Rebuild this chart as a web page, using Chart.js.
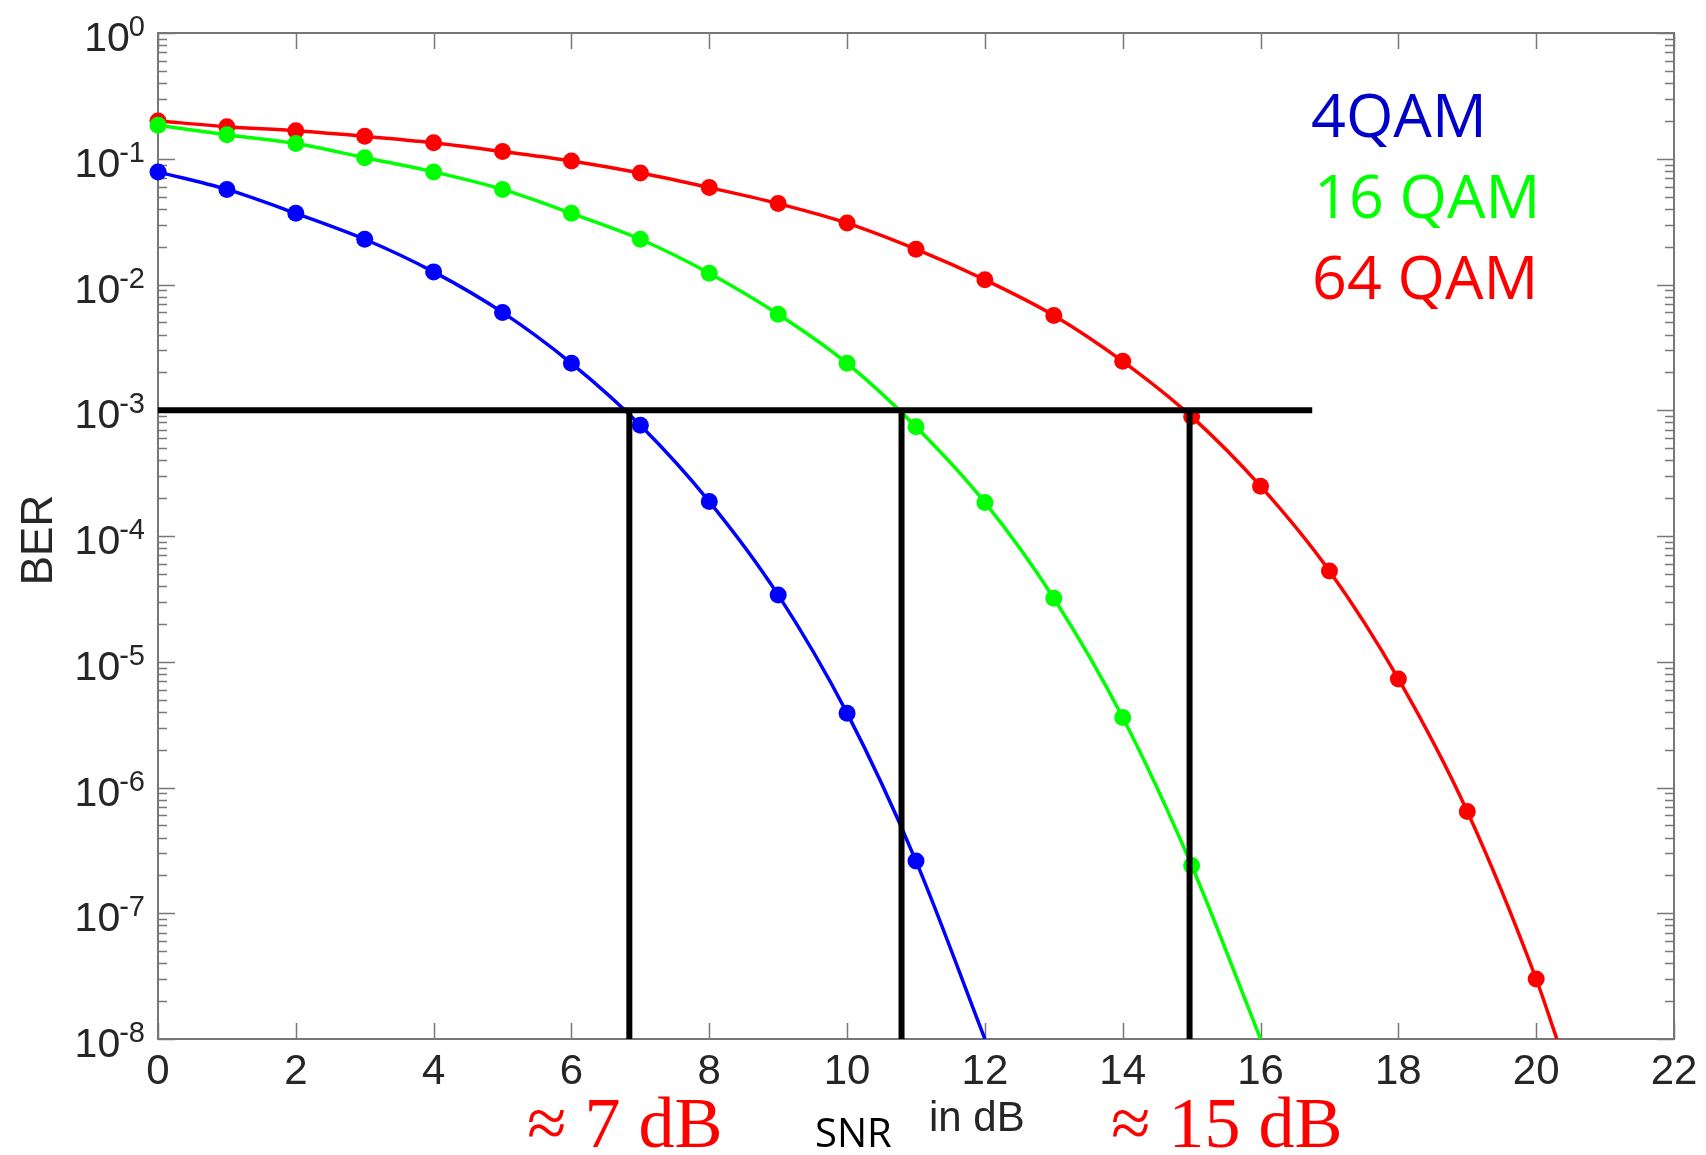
<!DOCTYPE html>
<html>
<head>
<meta charset="utf-8">
<script src="https://cdn.jsdelivr.net/npm/chart.js@4.4.0/dist/chart.umd.min.js"></script>
<style>
  html, body { margin: 0; padding: 0; background: #ffffff; }
  #wrap { width: 1706px; height: 1155px; position: relative; }
</style>
</head>
<body>
<div id="wrap"><canvas id="c" width="1706" height="1155"></canvas></div>
<script>
// ---- data ----
const snrDb = [0,1,2,3,4,5,6,7,8,9,10,11,12,13,14,15,16,17,18,19,20];
const ber4QAM  = [0.0786, 0.057, 0.0368, 0.0229, 0.0126, 0.0060, 0.00236, 7.6e-4, 1.88e-4, 3.4e-5, 3.9e-6, 2.6e-7];
const ber16QAM = [0.185, 0.155, 0.132, 0.102, 0.0786, 0.057, 0.0368, 0.0229, 0.0123, 0.0058, 0.00236, 7.4e-4, 1.85e-4, 3.2e-5, 3.6e-6, 2.4e-7];
const ber64QAM = [0.200, 0.180, 0.167, 0.151, 0.134, 0.114, 0.096, 0.077, 0.059, 0.044, 0.0308, 0.0191, 0.0109, 0.00568, 0.00245, 8.9e-4, 2.49e-4, 5.26e-5, 7.3e-6, 6.45e-7, 3.0e-8];
// where each curve leaves the plot at the bottom (x in dB, BER)
const curveEnd4QAM  = [12.0, 1e-8];
const curveEnd16QAM = [16.0, 1e-8];
const curveEnd64QAM = [20.3, 1e-8];
// threshold lines
const targetBER = 1e-3;
const crossingSnr = [6.84, 10.79, 14.97];
const thresholdLineEnd = 16.75;
// axes
const xTicks = [0,2,4,6,8,10,12,14,16,18,20,22];
const yExponents = [0,-1,-2,-3,-4,-5,-6,-7,-8];
const legendNames = ['4QAM', '16 QAM', '64 QAM'];
const annotations = ['\u2248 7 dB', '\u2248 15 dB'];

// ---- build datasets ----
function pts(arr){ return arr.map((v,i)=>({x:snrDb[i], y:v})); }
function curve(arr, end){ return pts(arr).concat([{x:end[0], y:end[1]}]); }

const colBlue = '#0000FF', colGreen = '#00FF00', colRed = '#FF0000';

const datasets = [];
// black threshold lines (on top)
datasets.push({ data:[{x:0,y:targetBER},{x:thresholdLineEnd,y:targetBER}], borderColor:'#000', borderWidth:6, pointRadius:0, order:0, borderCapStyle:'butt', clip:false });
crossingSnr.forEach(s => datasets.push({ data:[{x:s,y:targetBER},{x:s,y:1e-8}], borderColor:'#000', borderWidth:6, pointRadius:0, order:0, borderCapStyle:'butt' }));
// markers
[[ber4QAM,colBlue],[ber16QAM,colGreen],[ber64QAM,colRed]].forEach(([a,c]) => datasets.push({
  data: pts(a), showLine:false, pointRadius:8.5, pointBackgroundColor:c, pointBorderWidth:0, pointHoverRadius:8.5, order:1, clip:false
}));
// smooth curves
[[ber4QAM,curveEnd4QAM,colBlue],[ber16QAM,curveEnd16QAM,colGreen],[ber64QAM,curveEnd64QAM,colRed]].forEach(([a,e,c]) => datasets.push({
  data: curve(a,e), borderColor:c, borderWidth:3.5, pointRadius:0, cubicInterpolationMode:'monotone', order:2
}));

const axisColor = '#777777';
const textColor = '#262626';

const decorPlugin = {
  id: 'decor',
  beforeDatasetsDraw(chart) {
    const {ctx, chartArea:a, scales:{x, y}} = chart;
    ctx.save();
    ctx.strokeStyle = axisColor;
    ctx.lineWidth = 2;
    ctx.strokeRect(a.left, a.top, a.right - a.left, a.bottom - a.top);
    ctx.lineWidth = 1.5;
    ctx.beginPath();
    xTicks.forEach(t => {
      const px = Math.round(x.getPixelForValue(t)) + 0.5;
      ctx.moveTo(px, a.bottom); ctx.lineTo(px, a.bottom - 16);
      ctx.moveTo(px, a.top); ctx.lineTo(px, a.top + 16);
    });
    yExponents.forEach(e => {
      const py = Math.round(y.getPixelForValue(Math.pow(10, e))) + 0.5;
      ctx.moveTo(a.left, py); ctx.lineTo(a.left + 17, py);
      ctx.moveTo(a.right, py); ctx.lineTo(a.right - 17, py);
      if (e < 0) {
        for (let m = 2; m <= 9; m++) {
          const pm = Math.round(y.getPixelForValue(m * Math.pow(10, e))) + 0.5;
          ctx.moveTo(a.left, pm); ctx.lineTo(a.left + 9, pm);
          ctx.moveTo(a.right, pm); ctx.lineTo(a.right - 9, pm);
        }
      }
    });
    ctx.stroke();
    ctx.restore();
  },
  afterDraw(chart) {
    const {ctx, chartArea:a, scales:{x, y}} = chart;
    ctx.save();
    // y tick labels 10^k
    ctx.fillStyle = textColor;
    ctx.textBaseline = 'alphabetic';
    yExponents.forEach(e => {
      const py = y.getPixelForValue(Math.pow(10, e));
      const expStr = String(e);
      ctx.font = '29px "Liberation Sans", Arial, sans-serif';
      const w = ctx.measureText(expStr).width;
      const expLeft = 145 - w;
      ctx.textAlign = 'left';
      ctx.fillText(expStr, expLeft, py + 3);
      ctx.font = '41px "Liberation Sans", Arial, sans-serif';
      ctx.textAlign = 'right';
      ctx.fillText('10', expLeft + 1, py + 18);
    });
    // y axis title
    ctx.save();
    ctx.translate(52, 540);
    ctx.rotate(-Math.PI / 2);
    ctx.font = '44px "Liberation Sans", Arial, sans-serif';
    ctx.textAlign = 'center';
    ctx.fillText('BER', 0, 0);
    ctx.restore();
    // x axis title pieces
    ctx.textAlign = 'left';
    ctx.font = '42px "Liberation Sans", Arial, sans-serif';
    ctx.fillStyle = textColor;
    ctx.fillText('in dB', 929, 1131);
    ctx.font = '40px "Open Sans", sans-serif';
    ctx.fillStyle = '#000';
    ctx.fillText('SNR', 815, 1147);
    // annotations
    ctx.font = '72px "Liberation Serif", "DejaVu Serif", serif';
    ctx.fillStyle = '#FF0000';
    ctx.fillText(annotations[0], 527, 1147);
    ctx.fillText(annotations[1], 1111, 1147);
    // legend text
    ctx.font = '61px "Open Sans", sans-serif';
    ctx.fillStyle = '#0000C8';
    ctx.fillText(legendNames[0], 1311, 137);
    ctx.fillStyle = colGreen;
    ctx.fillText(legendNames[1], 1314, 218);
    ctx.fillStyle = colRed;
    ctx.fillText(legendNames[2], 1312, 299);
    ctx.restore();
  }
};

new Chart(document.getElementById('c'), {
  type: 'line',
  data: { datasets },
  options: {
    responsive: false,
    animation: false,
    events: [],
    layout: { padding: { left: 0, top: 33, right: 32, bottom: 0 } },
    plugins: { legend: { display: false }, tooltip: { enabled: false } },
    scales: {
      x: {
        type: 'linear', min: 0, max: 22,
        grid: { display: false, drawTicks: false },
        border: { display: false },
        ticks: { stepSize: 2, padding: 8, color: textColor, font: { family: '"Liberation Sans", Arial, sans-serif', size: 42 }, maxRotation: 0, autoSkip: false },
        afterFit(s) { s.height = 116; }
      },
      y: {
        type: 'logarithmic', min: 1e-8, max: 1,
        grid: { display: false, drawTicks: false },
        border: { display: false },
        ticks: { display: false },
        afterFit(s) { s.width = 158; }
      }
    }
  },
  plugins: [decorPlugin]
});
</script>
</body>
</html>
